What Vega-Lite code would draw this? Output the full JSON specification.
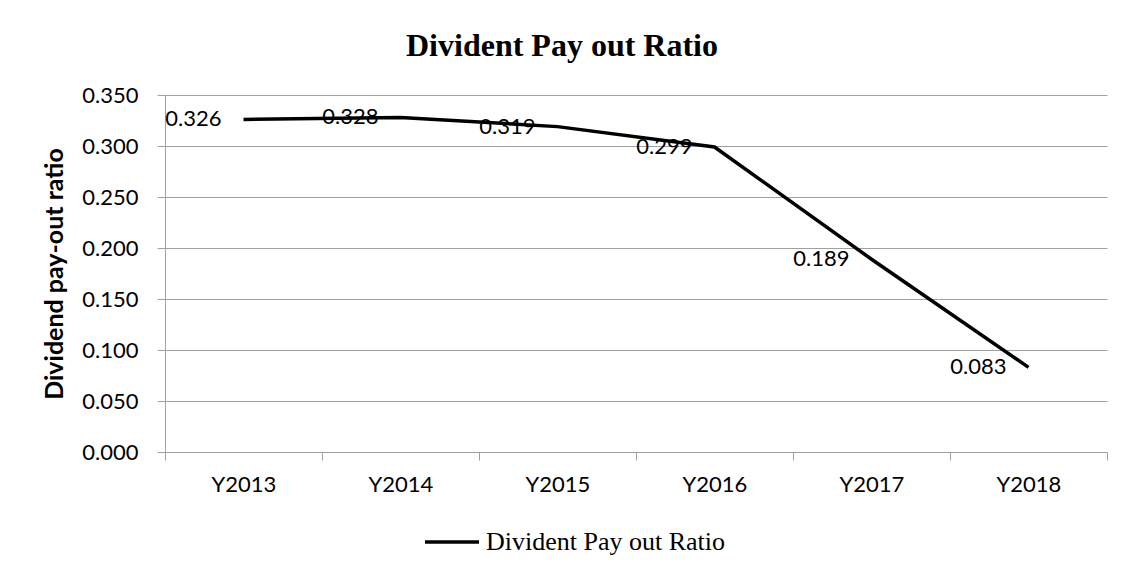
{
  "$schema": "https://vega.github.io/schema/vega-lite/v6.json",
  "width": 942,
  "height": 357,
  "autosize": {"type": "none"},
  "padding": {"left": 165, "top": 95, "right": 28, "bottom": 124},
  "background": "white",
  "config": {
    "view": {"stroke": null},
    "axis": {"labelFont": "Lato", "labelFontSize": 22, "labelColor": "#000000", "domainColor": "#a0a0a0", "tickColor": "#a0a0a0", "gridColor": "#a0a0a0", "tickSize": 8, "domainWidth": 1, "tickWidth": 1, "gridWidth": 1}
  },
  "title": {
    "text": "Divident Pay out Ratio",
    "font": "Liberation Serif",
    "fontSize": 32,
    "fontWeight": "bold",
    "color": "#000000",
    "anchor": "middle",
    "frame": "group",
    "baseline": "alphabetic",
    "offset": 29,
    "dx": -74,
    "dy": 33
  },
  "data": {
    "values": [
      {"year": "Y2013", "value": 0.326, "series": "Divident Pay out Ratio"},
      {"year": "Y2014", "value": 0.328, "series": "Divident Pay out Ratio"},
      {"year": "Y2015", "value": 0.319, "series": "Divident Pay out Ratio"},
      {"year": "Y2016", "value": 0.299, "series": "Divident Pay out Ratio"},
      {"year": "Y2017", "value": 0.189, "series": "Divident Pay out Ratio"},
      {"year": "Y2018", "value": 0.083, "series": "Divident Pay out Ratio"}
    ]
  },
  "encoding": {
    "x": {
      "field": "year",
      "type": "nominal",
      "sort": null,
      "scale": {"type": "band", "paddingInner": 0, "paddingOuter": 0},
      "axis": {"title": null, "labelAngle": 0, "tickBand": "extent", "grid": false, "labelPadding": 14}
    },
    "y": {
      "field": "value",
      "type": "quantitative",
      "scale": {"domain": [0, 0.35], "nice": false},
      "axis": {
        "title": "Dividend pay-out ratio",
        "titleFont": "Lato",
        "titleFontSize": 25,
        "titleFontWeight": "bold",
        "titleColor": "#000000",
        "titlePadding": 14,
        "values": [0, 0.05, 0.1, 0.15, 0.2, 0.25, 0.3, 0.35],
        "format": ".3f",
        "labelPadding": 19,
        "grid": true
      }
    }
  },
  "layer": [
    {
      "mark": {"type": "line", "strokeWidth": 3.5, "strokeJoin": "miter"},
      "encoding": {
        "color": {
          "field": "series",
          "type": "nominal",
          "scale": {"range": ["#000000"]},
          "legend": {
            "title": null,
            "orient": "none",
            "legendX": 258,
            "legendY": 418,
            "symbolType": "stroke",
            "symbolSize": 2916,
            "symbolStrokeWidth": 3.5,
            "labelFont": "Liberation Serif",
            "labelFontSize": 26,
            "labelColor": "#000000",
            "labelOffset": 5,
            "labelLimit": 400
          }
        }
      }
    },
    {
      "mark": {"type": "text", "align": "right", "baseline": "middle", "dx": -22, "font": "Lato", "fontSize": 22, "color": "#000000"},
      "encoding": {
        "text": {"field": "value", "type": "quantitative", "format": ".3f"}
      }
    }
  ]
}
